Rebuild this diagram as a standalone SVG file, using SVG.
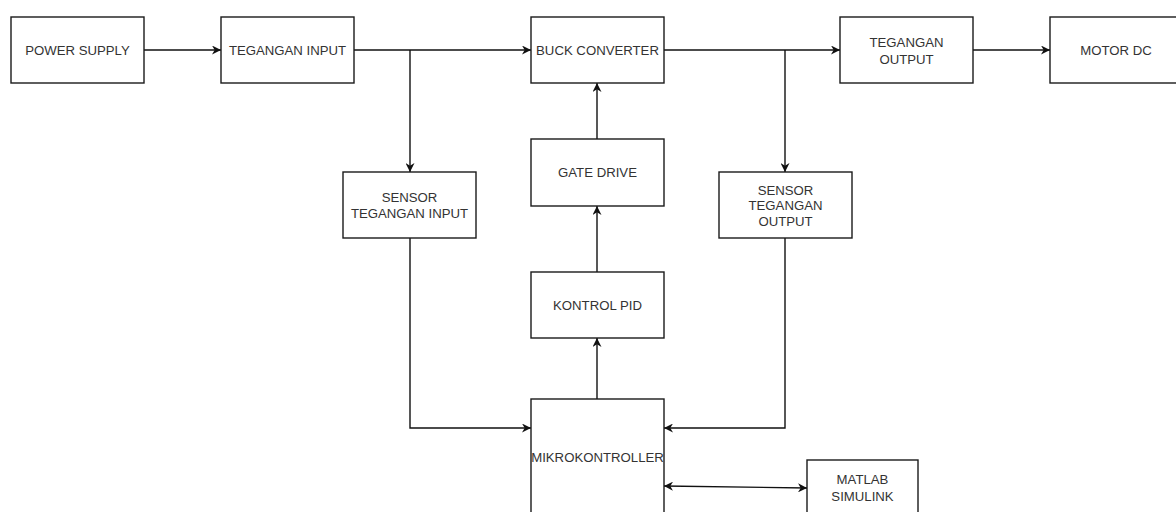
<svg xmlns="http://www.w3.org/2000/svg" width="1176" height="512" viewBox="0 0 1176 512">
<style>
.box{fill:#fff;stroke:#1a1a1a;stroke-width:1.4}
.t{font-family:"Liberation Sans",Arial,sans-serif;font-size:13.2px;fill:#333;text-anchor:middle;dominant-baseline:central}
.c{fill:none;stroke:#111;stroke-width:1.4}
</style>
<defs>
<marker id="ah" viewBox="0 0 10 10" refX="10" refY="5" markerWidth="9" markerHeight="9" markerUnits="userSpaceOnUse" orient="auto-start-reverse">
<path d="M0,0 L10,5 L0,10 L3,5 z" fill="#111"/>
</marker>
</defs>
<rect width="1176" height="512" fill="#fff"/>
<g id="connectors">
<path class="c" d="M144,50 H221" marker-end="url(#ah)"/>
<path class="c" d="M354,50 H531" marker-end="url(#ah)"/>
<path class="c" d="M410,50 V172" marker-end="url(#ah)"/>
<path class="c" d="M664,50 H840" marker-end="url(#ah)"/>
<path class="c" d="M785,50 V172" marker-end="url(#ah)"/>
<path class="c" d="M973,50 H1050" marker-end="url(#ah)"/>
<path class="c" d="M597,139 V83" marker-end="url(#ah)"/>
<path class="c" d="M597,272 V206" marker-end="url(#ah)"/>
<path class="c" d="M597,399 V338" marker-end="url(#ah)"/>
<path class="c" d="M410,238 V428 H531" marker-end="url(#ah)"/>
<path class="c" d="M785,238 V428 H664" marker-end="url(#ah)"/>
<path class="c" d="M664,486 L807,488" marker-start="url(#ah)" marker-end="url(#ah)"/>
</g>
<g id="power-supply"><rect class="box" x="11" y="17" width="133" height="66"/><text class="t" x="77.5" y="50">POWER SUPPLY</text></g>
<g id="tegangan-input"><rect class="box" x="221" y="17" width="133" height="66"/><text class="t" x="287.5" y="50">TEGANGAN INPUT</text></g>
<g id="buck-converter"><rect class="box" x="531" y="17" width="133" height="66"/><text class="t" x="597.5" y="50">BUCK CONVERTER</text></g>
<g id="tegangan-output"><rect class="box" x="840" y="17" width="133" height="66"/><text class="t" x="906.5" y="42">TEGANGAN</text><text class="t" x="906.5" y="59">OUTPUT</text></g>
<g id="motor-dc"><rect class="box" x="1050" y="17" width="133" height="66"/><text class="t" x="1116" y="50">MOTOR DC</text></g>
<g id="sensor-input"><rect class="box" x="343" y="172" width="133" height="66"/><text class="t" x="409.5" y="197">SENSOR</text><text class="t" x="409.5" y="213.5">TEGANGAN INPUT</text></g>
<g id="gate-drive"><rect class="box" x="531" y="139" width="133" height="67"/><text class="t" x="597.5" y="172">GATE DRIVE</text></g>
<g id="sensor-output"><rect class="box" x="719" y="172" width="133" height="66"/><text class="t" x="785.5" y="190">SENSOR</text><text class="t" x="785.5" y="205.5">TEGANGAN</text><text class="t" x="785.5" y="221">OUTPUT</text></g>
<g id="kontrol-pid"><rect class="box" x="531" y="272" width="133" height="66"/><text class="t" x="597.5" y="305">KONTROL PID</text></g>
<g id="mikrokontroller"><rect class="box" x="531" y="399" width="133" height="116"/><text class="t" x="597.5" y="457">MIKROKONTROLLER</text></g>
<g id="matlab-simulink"><rect class="box" x="807" y="460" width="111" height="56"/><text class="t" x="862.5" y="479">MATLAB</text><text class="t" x="862.5" y="496">SIMULINK</text></g>
</svg>
